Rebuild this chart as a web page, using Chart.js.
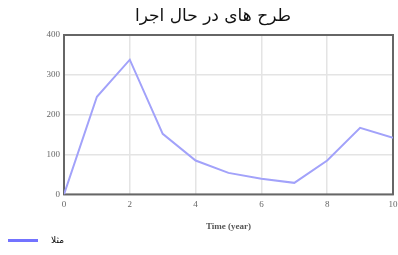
<!DOCTYPE html>
<html>
<head>
<meta charset="utf-8">
<script src="https://cdn.jsdelivr.net/npm/chart.js@4"></script>
<style>
  body { margin: 0; background: #fff; }
  #wrap { width: 398px; height: 255px; position: relative; }
</style>
</head>
<body>
<div id="wrap"><canvas id="chart"></canvas></div>
<script>
// chart data
const chartTitle = 'طرح های در حال اجرا';
const seriesName = 'مثلا';
const years = [0, 1, 2, 3, 4, 5, 6, 7, 8, 9, 10];
const values = [0, 245, 338, 152, 85, 54, 39, 29, 85, 167, 142];
const xAxisTitle = 'Time (year)';

// title drawn a bit right of canvas centre, like the original
const titlePlugin = {
  id: 'farsiTitle',
  afterDraw(chart) {
    const ctx = chart.ctx;
    ctx.save();
    ctx.font = '17px "DejaVu Sans"';
    ctx.fillStyle = '#111';
    ctx.textAlign = 'center';
    ctx.textBaseline = 'middle';
    ctx.fillText(chartTitle, 213, 17);
    ctx.restore();
  }
};

// grey frame round the plot area
const framePlugin = {
  id: 'frame',
  beforeDatasetsDraw(chart) {
    const a = chart.chartArea;
    const ctx = chart.ctx;
    ctx.save();
    ctx.strokeStyle = '#666';
    ctx.lineWidth = 2;
    ctx.strokeRect(a.left, a.top, a.right - a.left, a.bottom - a.top);
    ctx.restore();
  }
};

const tickFont = { family: 'Liberation Serif', size: 9 };

new Chart(document.getElementById('chart'), {
  type: 'line',
  data: {
    labels: years,
    datasets: [{
      label: seriesName,
      data: years.map((x, i) => ({ x: x, y: values[i] })),
      borderColor: '#a2a2fa',
      backgroundColor: '#7373ff',
      borderWidth: 2,
      pointRadius: 0,
      tension: 0
    }]
  },
  options: {
    responsive: true,
    maintainAspectRatio: false,
    animation: false,
    layout: { padding: { top: 35, right: 0, left: 6, bottom: 0 } },
    scales: {
      x: {
        type: 'linear',
        min: 0,
        max: 10,
        ticks: { stepSize: 2, font: tickFont, color: '#666', padding: 5 },
        grid: { color: '#e4e4e4', lineWidth: 1.5, drawTicks: false },
        border: { display: false },
        title: {
          display: true,
          text: xAxisTitle,
          font: { family: 'Liberation Serif', size: 9, weight: 'bold' },
          color: '#555',
          padding: { top: 6, bottom: 2 }
        },
        afterFit(scale) { scale.paddingRight = 5; }
      },
      y: {
        min: 0,
        max: 400,
        ticks: { stepSize: 100, font: tickFont, color: '#666', padding: 4 },
        grid: { color: '#e4e4e4', lineWidth: 1.5, drawTicks: false },
        border: { display: false },
        afterFit(scale) { scale.width = 58; }
      }
    },
    plugins: {
      title: { display: false },
      tooltip: { enabled: false },
      legend: {
        position: 'bottom',
        align: 'start',
        labels: {
          usePointStyle: true,
          pointStyle: 'line',
          pointStyleWidth: 30,
          boxHeight: 3,
          padding: 2,
          color: '#777',
          font: { family: 'DejaVu Sans', size: 9 },
          generateLabels(chart) {
            return chart.data.datasets.map((ds, i) => ({
              text: '\u00a0\u00a0\u00a0' + ds.label,
              strokeStyle: '#7373ff',
              fillStyle: '#7373ff',
              lineWidth: 3,
              pointStyle: 'line',
              datasetIndex: i
            }));
          }
        }
      }
    }
  },
  plugins: [framePlugin, titlePlugin]
});
</script>
</body>
</html>
